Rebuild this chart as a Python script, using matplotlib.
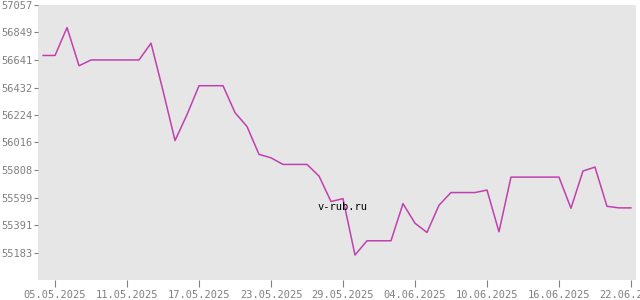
import pandas as pd
import matplotlib
matplotlib.use('Agg')
import matplotlib.pyplot as plt
import matplotlib.dates as mdates

# Daily values, 04.05.2025 .. 22.06.2025
dates = pd.date_range('2025-05-04', '2025-06-22', freq='D')
values = [56675, 56675, 56886, 56597, 56641, 56641, 56641, 56641, 56641,
          56768, 56408, 56031, 56227, 56446, 56446, 56446, 56242, 56137,
          55926, 55900, 55850, 55850, 55850, 55762, 55569, 55591, 55164,
          55272, 55272, 55272, 55553, 55405, 55335, 55541, 55637, 55637,
          55637, 55656, 55340, 55754, 55754, 55754, 55754, 55754, 55518,
          55800, 55830, 55533, 55521, 55521]

y_ticks = [55183, 55391, 55599, 55808, 56016, 56224, 56432, 56641, 56849, 57057]
x_ticks = ['2025-05-05', '2025-05-11', '2025-05-17', '2025-05-23', '2025-05-29',
           '2025-06-04', '2025-06-10', '2025-06-16', '2025-06-22']

grey = '#808080'
mono = 'DejaVu Sans Mono'

fig = plt.figure(figsize=(6.4, 3.0), dpi=100)
ax = fig.add_axes([38 / 640, 20 / 300, 598 / 640, 275 / 300])
ax.set_facecolor('#e6e6e6')

ax.plot(dates, values, color='#c040b0', linewidth=1.1)

ax.set_ylim(54975, 57057)
ax.set_xlim(pd.Timestamp('2025-05-05') - pd.Timedelta(days=1.42),
            pd.Timestamp('2025-05-05') + pd.Timedelta(days=48.42))

ax.set_yticks(y_ticks)
ax.set_yticklabels([str(v) for v in y_ticks])
ax.set_xticks(pd.to_datetime(x_ticks))
ax.xaxis.set_major_formatter(mdates.DateFormatter('%d.%m.%Y'))

for s in ax.spines.values():
    s.set_visible(False)

ax.tick_params(axis='y', length=3, width=0.8, color=grey, pad=1,
               labelsize=7.5, labelcolor=grey)
ax.tick_params(axis='x', length=5, width=0.8, color=grey, pad=2,
               labelsize=7.5, labelcolor=grey)
for lbl in ax.get_xticklabels() + ax.get_yticklabels():
    lbl.set_family(mono)

# watermark
ax.text(0.51, 0.265, 'v-rub.ru', transform=ax.transAxes, ha='center', va='center',
        fontsize=7.5, family=mono, color='black')

fig.savefig('out.png', dpi=100)
